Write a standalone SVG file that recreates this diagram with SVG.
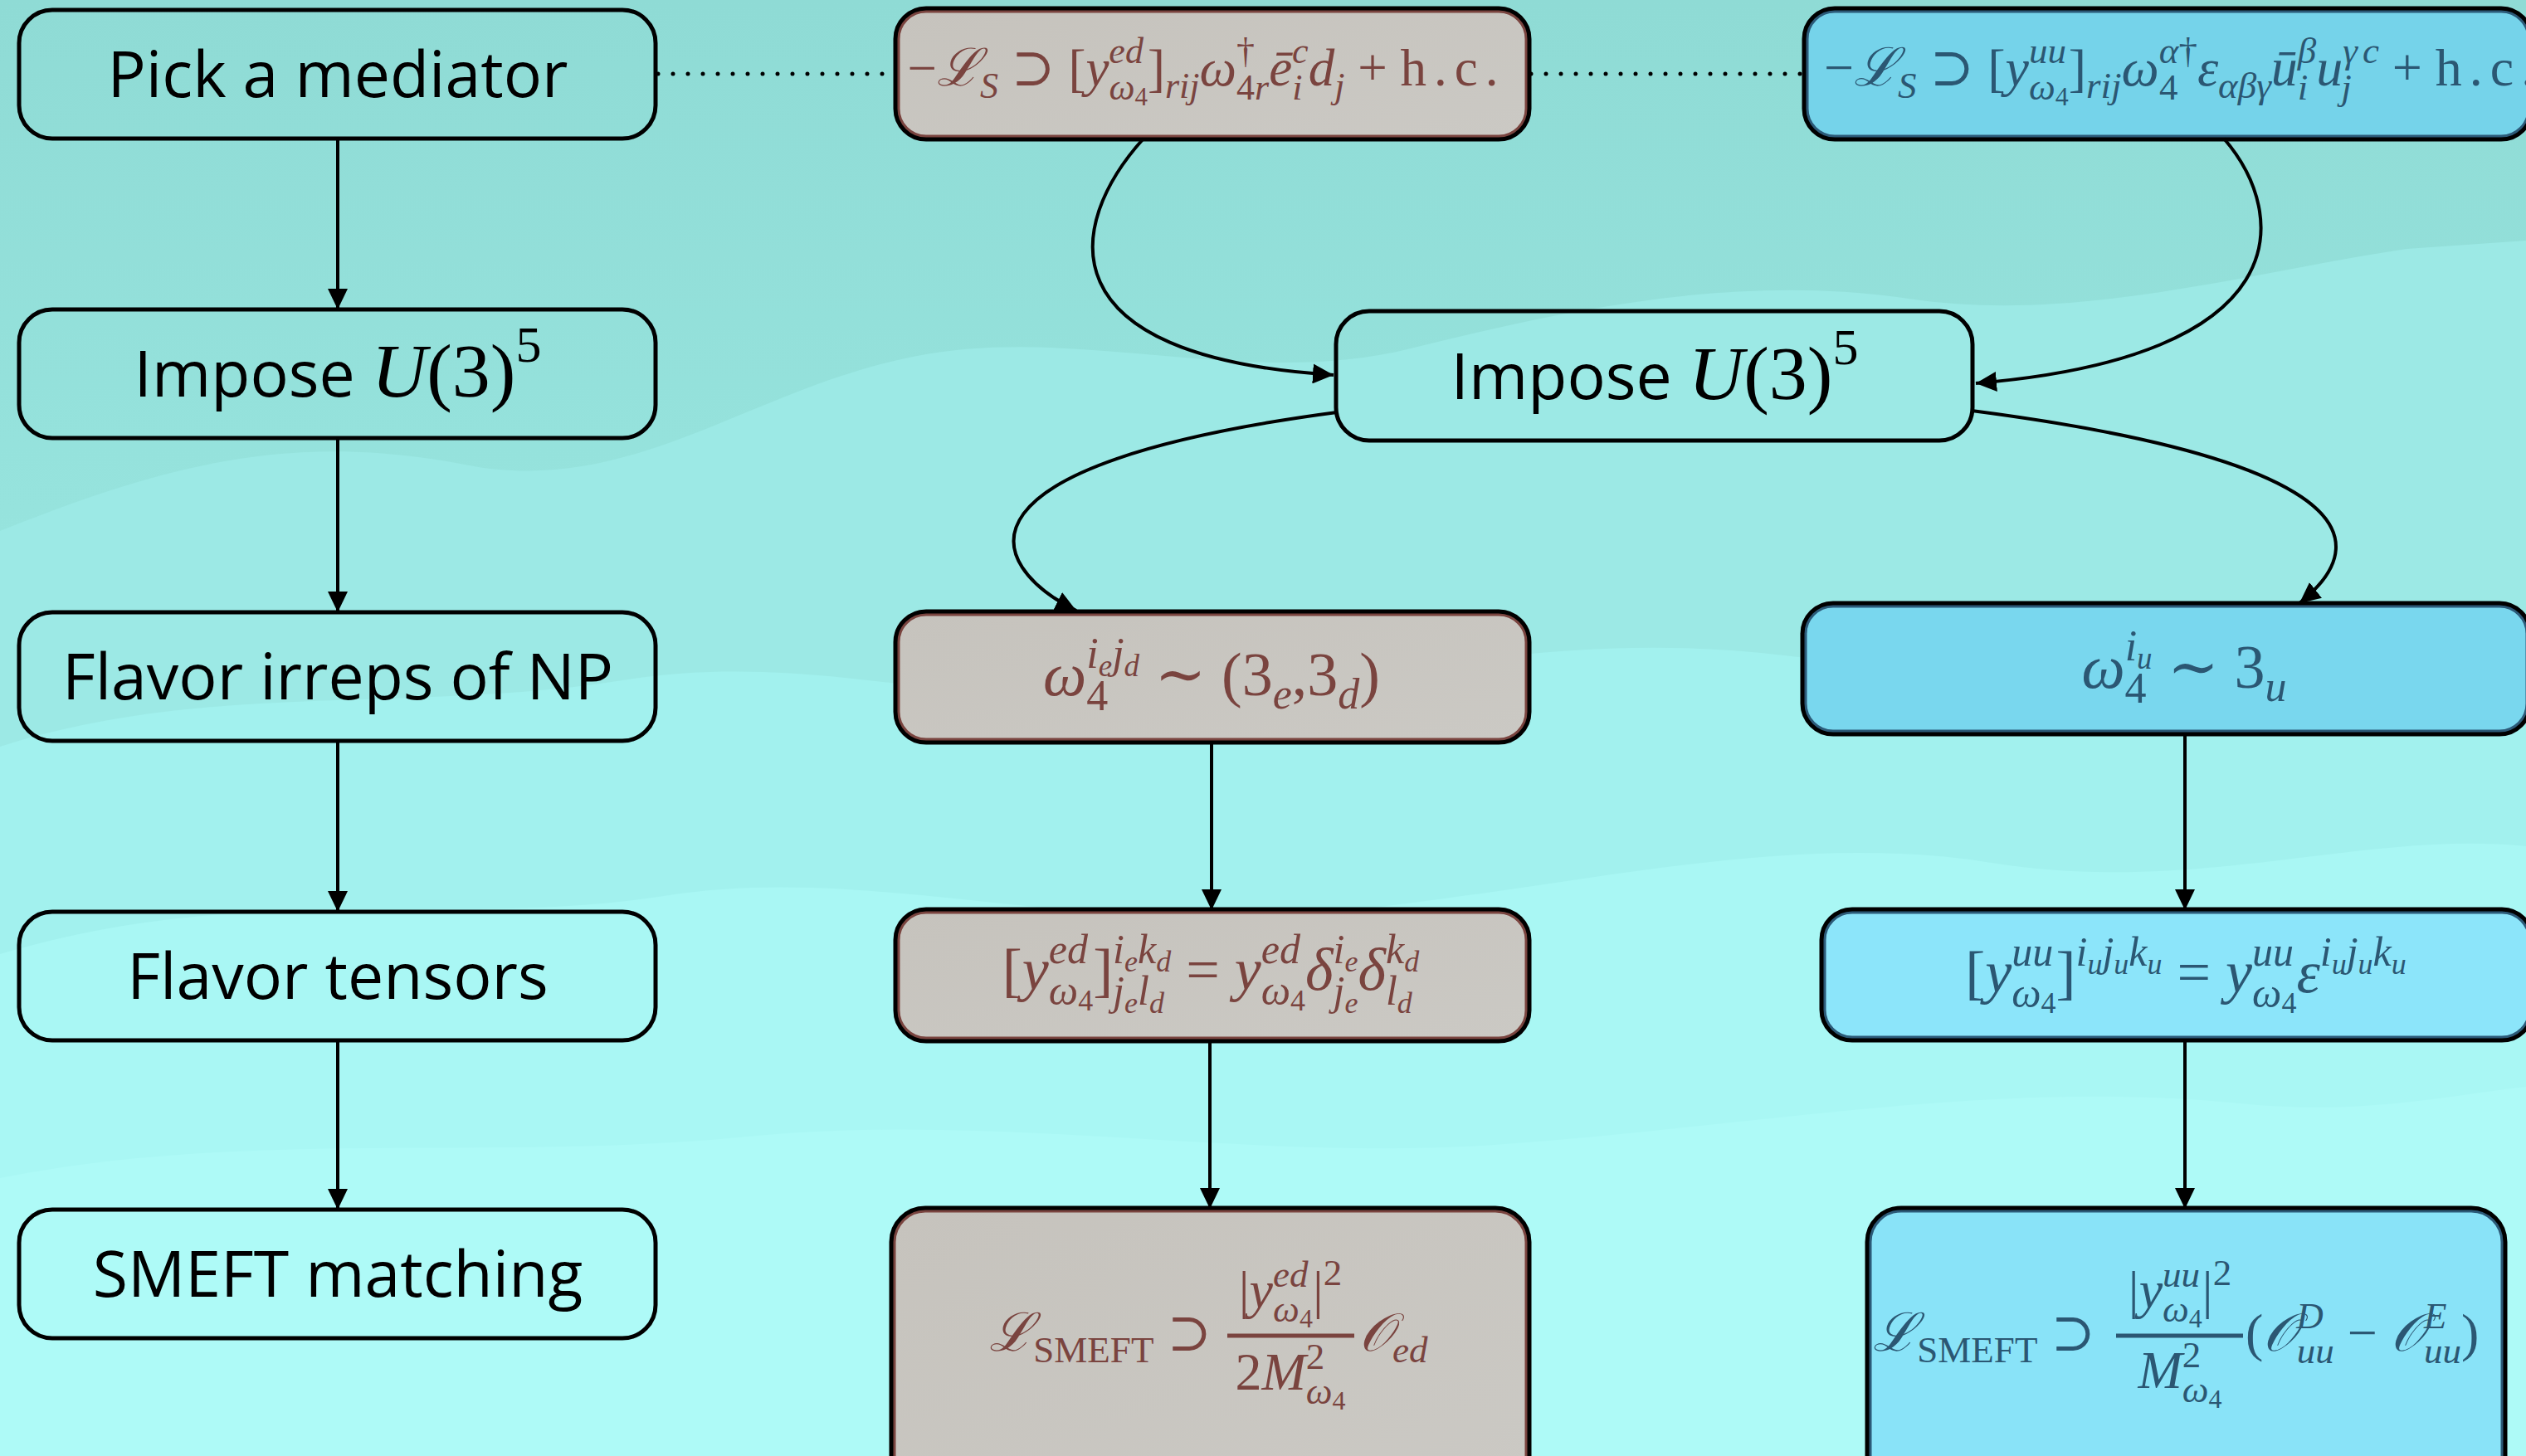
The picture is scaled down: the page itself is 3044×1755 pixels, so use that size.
<svg xmlns="http://www.w3.org/2000/svg" width="3044" height="1755" viewBox="0 0 3044 1755">
<style>
.sans{font-family:"Open Sans","Liberation Sans",sans-serif;font-size:77px;fill:#000}
.m{font-family:"Liberation Serif","DejaVu Serif",serif}
.i{font-style:italic}
.br{fill:#7a443f}
.bl{fill:#2b5773}
.lbox{fill:none;stroke:#000;stroke-width:5}
.outer{stroke:#000;stroke-width:7}
.inb{fill:none;stroke:#7a443f;stroke-width:3}
.inu{fill:none;stroke:#2c5a78;stroke-width:3}
.conn{fill:none;stroke:#000;stroke-width:4}
.dot{fill:none;stroke:#000;stroke-width:5;stroke-linecap:round;stroke-dasharray:0 18}
</style>
<defs>
<marker id="ah" viewBox="0 0 25 24" refX="25" refY="12" markerWidth="25" markerHeight="24" markerUnits="userSpaceOnUse" orient="auto">
<path d="M0,0 L25,12 L0,24 Z" fill="#000"/>
</marker>
<linearGradient id="bg" x1="0" y1="0" x2="0" y2="1">
<stop offset="0" stop-color="#8fdbd5"/>
<stop offset="0.35" stop-color="#96e3dd"/>
<stop offset="1" stop-color="#a6f4f0"/>
</linearGradient>
<linearGradient id="gbrown" x1="0" y1="0" x2="1" y2="1">
<stop offset="0" stop-color="#c6c3bd"/>
<stop offset="1" stop-color="#cbc9c4"/>
</linearGradient>
</defs>
<g id="background">
<rect x="0" y="0" width="3044" height="1755" fill="url(#bg)"/>
<path d="M0,640 C200,560 350,520 560,560 C760,600 900,470 1100,430 C1300,390 1500,470 1700,420 C1900,370 2100,330 2300,360 C2500,390 2700,330 2900,300 L3044,290 L3044,1755 L0,1755 Z" fill="#9ce9e5"/>
<path d="M0,900 C250,820 500,860 750,820 C1000,780 1200,870 1450,840 C1700,810 1900,760 2150,790 C2400,820 2600,740 2850,760 L3044,770 L3044,1755 L0,1755 Z" fill="#a2f1ee"/>
<path d="M0,1150 C300,1060 550,1120 800,1080 C1050,1040 1300,1130 1600,1100 C1900,1070 2150,1000 2400,1040 C2650,1080 2850,1000 3044,1020 L3044,1755 L0,1755 Z" fill="#a9f7f4"/>
<path d="M0,1420 C300,1360 600,1400 900,1370 C1200,1340 1500,1400 1800,1380 C2100,1360 2400,1300 2700,1330 C2850,1345 2950,1320 3044,1310 L3044,1755 L0,1755 Z" fill="#aefaf7"/>
</g>
<g id="n_pick"><rect class="lbox" x="23" y="12" width="767" height="155" rx="40"/><text class="sans" x="407" y="117" text-anchor="middle">Pick a mediator</text></g>
<g id="n_impose_left"><rect class="lbox" x="23" y="373" width="767" height="155" rx="40"/><text class="sans" x="407" y="478" text-anchor="middle">Impose <tspan class="m i" font-size="92">U</tspan><tspan class="m" font-size="92">(3)</tspan><tspan class="m" font-size="62" dy="-42">5</tspan></text></g>
<g id="n_irreps_left"><rect class="lbox" x="23" y="738" width="767" height="155" rx="40"/><text class="sans" x="407" y="843" text-anchor="middle">Flavor irreps of NP</text></g>
<g id="n_tensors_left"><rect class="lbox" x="23" y="1099" width="767" height="155" rx="40"/><text class="sans" x="407" y="1204" text-anchor="middle">Flavor tensors</text></g>
<g id="n_smeft_left"><rect class="lbox" x="23" y="1458" width="767" height="155" rx="40"/><text class="sans" x="407" y="1563" text-anchor="middle">SMEFT matching</text></g>
<g id="n_impose_center"><rect class="lbox" x="1610" y="375" width="767" height="156" rx="40"/><text class="sans" x="1994" y="481" text-anchor="middle">Impose <tspan class="m i" font-size="92">U</tspan><tspan class="m" font-size="92">(3)</tspan><tspan class="m" font-size="62" dy="-42">5</tspan></text></g>
<g id="n_lag_ed"><rect class="outer" fill="url(#gbrown)" x="1080" y="11" width="762" height="156" rx="36"/><rect class="inb" x="1083" y="14" width="756" height="150" rx="33"/>
<text class="m br" x="1454" y="103" font-size="63" text-anchor="middle"><tspan>−</tspan><tspan class="i">ℒ</tspan><tspan class="i" font-size="44" dy="15">S</tspan><tspan dy="-15"> ⊃ [</tspan><tspan class="i">y</tspan><tspan class="i" font-size="44" dy="-27">ed</tspan><tspan class="i" font-size="44" dx="-41.5" dy="44">ω</tspan><tspan font-size="31" dy="7">4</tspan><tspan dy="-24">]</tspan><tspan class="i" font-size="44" dy="15">rij</tspan><tspan class="i" dy="-15">ω</tspan><tspan font-size="44" dy="-27">†</tspan><tspan font-size="44" dx="-22" dy="44">4</tspan><tspan class="i" font-size="44">r</tspan><tspan class="i" dy="-17">ē</tspan><tspan class="i" font-size="44" dy="-27">c</tspan><tspan class="i" font-size="44" dx="-19.5" dy="44">i</tspan><tspan class="i" dx="7.3" dy="-17">d</tspan><tspan class="i" font-size="44" dy="15">j</tspan><tspan dy="-15"> + </tspan><tspan letter-spacing="9">h.c.</tspan></text></g>
<g id="n_lag_uu"><rect class="outer" fill="#75d3ea" x="2175" y="11" width="875" height="156" rx="36"/><rect class="inu" x="2178" y="14" width="869" height="150" rx="33"/>
<text class="m bl" x="2198" y="103" font-size="64"><tspan>−</tspan><tspan class="i">ℒ</tspan><tspan class="i" font-size="45" dy="15">S</tspan><tspan dy="-15"> ⊃ [</tspan><tspan class="i">y</tspan><tspan class="i" font-size="45" dy="-27">uu</tspan><tspan class="i" font-size="45" dx="-45" dy="44">ω</tspan><tspan font-size="32" dy="7">4</tspan><tspan dy="-24">]</tspan><tspan class="i" font-size="45" dy="15">rij</tspan><tspan class="i" dy="-15">ω</tspan><tspan class="i" font-size="45" dy="-27">α</tspan><tspan font-size="45">†</tspan><tspan font-size="45" dx="-45.9" dy="44">4</tspan><tspan class="i" dx="23.4" dy="-17">ε</tspan><tspan class="i" font-size="45" dy="15">αβγ</tspan><tspan class="i" dy="-15">ū</tspan><tspan class="i" font-size="45" dy="-27">β</tspan><tspan class="i" font-size="45" dx="-22.5" dy="44">i</tspan><tspan class="i" dx="10" dy="-17">u</tspan><tspan class="i" font-size="45" dy="-27">γ</tspan><tspan class="i" font-size="45" dx="6">c</tspan><tspan class="i" font-size="45" dx="-45.8" dy="44">j</tspan><tspan dx="33" dy="-17"> + </tspan><tspan letter-spacing="9">h.c.</tspan></text></g>
<g id="n_irrep_ed"><rect class="outer" fill="url(#gbrown)" x="1080" y="738" width="762" height="156" rx="36"/><rect class="inb" x="1083" y="741" width="756" height="150" rx="33"/>
<text class="m br" x="1460" y="838" font-size="74" text-anchor="middle"><tspan class="i">ω</tspan><tspan class="i" font-size="52" dy="-33">i</tspan><tspan class="i" font-size="37" dy="10">e</tspan><tspan class="i" font-size="52" dy="-10">j</tspan><tspan class="i" font-size="37" dy="10">d</tspan><tspan font-size="52" dx="-63.9" dy="41">4</tspan><tspan dx="37.9" dy="-18"> ∼ (3</tspan><tspan class="i" font-size="52" dy="16">e</tspan><tspan dy="-16">,3</tspan><tspan class="i" font-size="52" dy="16">d</tspan><tspan dy="-16">)</tspan></text></g>
<g id="n_irrep_uu"><rect class="outer" fill="#79d7ee" x="2173" y="728" width="875" height="156" rx="36"/><rect class="inu" x="2176" y="731" width="869" height="150" rx="33"/>
<text class="m bl" x="2632" y="829" font-size="74" text-anchor="middle"><tspan class="i">ω</tspan><tspan class="i" font-size="52" dy="-33">i</tspan><tspan class="i" font-size="37" dy="10">u</tspan><tspan font-size="52" dx="-33" dy="41">4</tspan><tspan dx="7" dy="-18"> ∼ 3</tspan><tspan class="i" font-size="52" dy="16">u</tspan></text></g>
<g id="n_tensor_ed"><rect class="outer" fill="url(#gbrown)" x="1080" y="1097" width="762" height="157" rx="36"/><rect class="inb" x="1083" y="1100" width="756" height="151" rx="33"/>
<text class="m br" x="1459" y="1193" font-size="72" text-anchor="middle"><tspan>[</tspan><tspan class="i">y</tspan><tspan class="i" font-size="50" dy="-32">ed</tspan><tspan class="i" font-size="50" dx="-47.2" dy="50">ω</tspan><tspan font-size="36" dy="7">4</tspan><tspan dy="-25">]</tspan><tspan class="i" font-size="50" dy="-32">i</tspan><tspan class="i" font-size="36" dy="10">e</tspan><tspan class="i" font-size="50" dy="-10">k</tspan><tspan class="i" font-size="36" dy="10">d</tspan><tspan class="i" font-size="50" dx="-70.1" dy="40">j</tspan><tspan class="i" font-size="36" dy="10">e</tspan><tspan class="i" font-size="50" dy="-10">l</tspan><tspan class="i" font-size="36" dy="10">d</tspan><tspan dx="8.3" dy="-28"> = </tspan><tspan class="i">y</tspan><tspan class="i" font-size="50" dy="-32">ed</tspan><tspan class="i" font-size="50" dx="-47.2" dy="50">ω</tspan><tspan font-size="36" dy="7">4</tspan><tspan class="i" dy="-25">δ</tspan><tspan class="i" font-size="50" dy="-32">i</tspan><tspan class="i" font-size="36" dy="10">e</tspan><tspan class="i" font-size="50" dx="-29.9" dy="40">j</tspan><tspan class="i" font-size="36" dy="10">e</tspan><tspan class="i" dy="-28">δ</tspan><tspan class="i" font-size="50" dy="-32">k</tspan><tspan class="i" font-size="36" dy="10">d</tspan><tspan class="i" font-size="50" dx="-40.2" dy="40">l</tspan><tspan class="i" font-size="36" dy="10">d</tspan></text></g>
<g id="n_tensor_uu"><rect class="outer" fill="#8ce5fa" x="2196" y="1097" width="855" height="156" rx="36"/><rect class="inu" x="2199" y="1100" width="849" height="150" rx="33"/>
<text class="m bl" x="2634" y="1196" font-size="72" text-anchor="middle"><tspan>[</tspan><tspan class="i">y</tspan><tspan class="i" font-size="50" dy="-32">uu</tspan><tspan class="i" font-size="50" dx="-50" dy="50">ω</tspan><tspan font-size="36" dy="7">4</tspan><tspan dy="-25">]</tspan><tspan class="i" font-size="50" dy="-32">i</tspan><tspan class="i" font-size="36" dy="10">u</tspan><tspan class="i" font-size="50" dy="-10">j</tspan><tspan class="i" font-size="36" dy="10">u</tspan><tspan class="i" font-size="50" dy="-10">k</tspan><tspan class="i" font-size="36" dy="10">u</tspan><tspan dy="22"> = </tspan><tspan class="i">y</tspan><tspan class="i" font-size="50" dy="-32">uu</tspan><tspan class="i" font-size="50" dx="-50" dy="50">ω</tspan><tspan font-size="36" dy="7">4</tspan><tspan class="i" dy="-25">ε</tspan><tspan class="i" font-size="50" dy="-32">i</tspan><tspan class="i" font-size="36" dy="10">u</tspan><tspan class="i" font-size="50" dy="-10">j</tspan><tspan class="i" font-size="36" dy="10">u</tspan><tspan class="i" font-size="50" dy="-10">k</tspan><tspan class="i" font-size="36" dy="10">u</tspan></text></g>
<g id="n_smeft_ed"><rect class="outer" fill="url(#gbrown)" x="1075" y="1457" width="767" height="340" rx="40"/><rect class="inb" x="1078" y="1460" width="761" height="334" rx="37"/>
<text class="m br" x="1460" y="1628" font-size="64" text-anchor="end"><tspan class="i">ℒ</tspan><tspan font-size="45" dy="14">SMEFT</tspan><tspan dy="-14"> ⊃</tspan></text>
<text class="m br" x="1555" y="1576" font-size="64" text-anchor="middle"><tspan>|</tspan><tspan class="i">y</tspan><tspan class="i" font-size="45" dy="-25">ed</tspan><tspan class="i" font-size="45" dx="-42.4" dy="42">ω</tspan><tspan font-size="32" dy="7">4</tspan><tspan dy="-24">|</tspan><tspan font-size="45" dy="-27">2</tspan></text>
<line x1="1479" y1="1610" x2="1632" y2="1610" stroke="#7a443f" stroke-width="5"/>
<text class="m br" x="1555" y="1675" font-size="64" text-anchor="middle"><tspan>2</tspan><tspan class="i">M</tspan><tspan font-size="45" dy="-25">2</tspan><tspan class="i" font-size="45" dx="-22.5" dy="42">ω</tspan><tspan font-size="32" dy="7">4</tspan></text>
<text class="m br" x="1638" y="1628" font-size="64"><tspan class="i">𝒪</tspan><tspan class="i" font-size="45" dy="14">ed</tspan></text></g>
<g id="n_smeft_uu"><rect class="outer" fill="#89e3f8" x="2251" y="1457" width="767" height="340" rx="40"/><rect class="inu" x="2254" y="1460" width="761" height="334" rx="37"/>
<text class="m bl" x="2525" y="1628" font-size="64" text-anchor="end"><tspan class="i">ℒ</tspan><tspan font-size="45" dy="14">SMEFT</tspan><tspan dy="-14"> ⊃</tspan></text>
<text class="m bl" x="2627" y="1576" font-size="64" text-anchor="middle"><tspan>|</tspan><tspan class="i">y</tspan><tspan class="i" font-size="45" dy="-25">uu</tspan><tspan class="i" font-size="45" dx="-45" dy="42">ω</tspan><tspan font-size="32" dy="7">4</tspan><tspan dy="-24">|</tspan><tspan font-size="45" dy="-27">2</tspan></text>
<line x1="2550" y1="1610" x2="2703" y2="1610" stroke="#2b5773" stroke-width="5"/>
<text class="m bl" x="2627" y="1673" font-size="64" text-anchor="middle"><tspan class="i">M</tspan><tspan font-size="45" dy="-25">2</tspan><tspan class="i" font-size="45" dx="-22.5" dy="42">ω</tspan><tspan font-size="32" dy="7">4</tspan></text>
<text class="m bl" x="2706" y="1628" font-size="64"><tspan>(</tspan><tspan class="i">𝒪</tspan><tspan class="i" font-size="45" dy="-27">D</tspan><tspan class="i" font-size="45" dx="-32" dy="42">uu</tspan><tspan dy="-15"> − </tspan><tspan class="i">𝒪</tspan><tspan class="i" font-size="45" dy="-27">E</tspan><tspan class="i" font-size="45" dx="-27.5" dy="42">uu</tspan><tspan dy="-15">)</tspan></text></g>
<g id="connectors">
<path class="dot" d="M793,89 L1077,89"/>
<path class="dot" d="M1845,89 L2172,89"/>
<path class="conn" marker-end="url(#ah)" d="M407,167 L407,373"/>
<path class="conn" marker-end="url(#ah)" d="M407,528 L407,738"/>
<path class="conn" marker-end="url(#ah)" d="M407,893 L407,1099"/>
<path class="conn" marker-end="url(#ah)" d="M407,1254 L407,1458"/>
<path class="conn" marker-end="url(#ah)" d="M1378,167 C1285,270 1255,430 1607,452"/>
<path class="conn" marker-end="url(#ah)" d="M2680,167 C2760,260 2770,430 2381,462"/>
<path class="conn" marker-end="url(#ah)" d="M1611,497 C1135,560 1185,680 1297,736"/>
<path class="conn" marker-end="url(#ah)" d="M2376,495 C2800,550 2880,640 2771,727"/>
<path class="conn" marker-end="url(#ah)" d="M1460,894 L1460,1097"/>
<path class="conn" marker-end="url(#ah)" d="M1458,1254 L1458,1457"/>
<path class="conn" marker-end="url(#ah)" d="M2633,884 L2633,1097"/>
<path class="conn" marker-end="url(#ah)" d="M2633,1253 L2633,1457"/>
</g>
</svg>
